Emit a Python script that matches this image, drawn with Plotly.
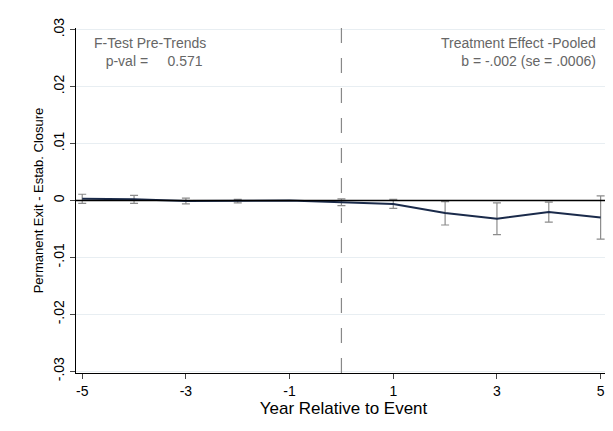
import plotly.graph_objects as go

years = [-5, -4, -3, -2, -1, 0, 1, 2, 3, 4, 5]
coef = [0.0003, 0.0002, -0.0001, -0.0001, 0.0, -0.0003, -0.0006, -0.0022, -0.0032, -0.0020, -0.0030]
ci_lo = [-0.0005, -0.0005, -0.0006, -0.0004, 0.0, -0.0009, -0.0014, -0.0043, -0.0060, -0.0038, -0.0068]
ci_hi = [0.0011, 0.0009, 0.0004, 0.0002, 0.0, 0.0003, 0.0002, -0.0002, -0.0004, -0.0003, 0.0008]
xticks = [-5, -3, -1, 1, 3, 5]

fig = go.Figure()
fig.add_trace(go.Scatter(
    x=years, y=coef, mode='lines', line=dict(color='#1a2a4a', width=2),
    error_y=dict(type='data', symmetric=False,
                 array=[h - c for h, c in zip(ci_hi, coef)],
                 arrayminus=[c - l for c, l in zip(coef, ci_lo)],
                 color='#8c8c8c', thickness=1.2, width=4),
    showlegend=False))
fig.add_hline(y=0, line=dict(color='black', width=1.5))
fig.add_vline(x=0, line=dict(color='#888888', width=1.2, dash='longdash'))

fig.add_annotation(x=0.03, y=0.985, xref='paper', yref='paper', xanchor='left', yanchor='top',
                   showarrow=False, align='left', font=dict(size=14, color='#666666'),
                   text='F-Test Pre-Trends<br>   p-val =     0.571')
fig.add_annotation(x=0.975, y=0.985, xref='paper', yref='paper', xanchor='right', yanchor='top',
                   showarrow=False, align='right', font=dict(size=14, color='#666666'),
                   text='Treatment Effect -Pooled<br>b = -.002 (se = .0006)')

fig.update_layout(
    width=613, height=431, margin=dict(l=68, r=10, t=14, b=66),
    plot_bgcolor='white', paper_bgcolor='white',
    font=dict(family='Liberation Sans, Arial', size=14, color='black'),
    xaxis=dict(range=[-5.12, 5.2], tickvals=xticks, ticktext=[str(v) for v in xticks],
               ticks='outside', showgrid=False, zeroline=False, showline=True, linecolor='black',
               title=dict(text='Year Relative to Event', standoff=0)),
    yaxis=dict(range=[-0.0303, 0.0303], tickvals=[-0.03, -0.02, -0.01, 0, 0.01, 0.02, 0.03],
               ticktext=['-.03', '-.02', '-.01', '0', '.01', '.02', '.03'],
               tickangle=-90, ticks='outside', showline=True, linecolor='black',
               gridcolor='#e8eef2', zeroline=False,
               title=dict(text='Permanent Exit - Estab. Closure', standoff=4, font=dict(size=13))),
)
fig.write_html("out.html")
